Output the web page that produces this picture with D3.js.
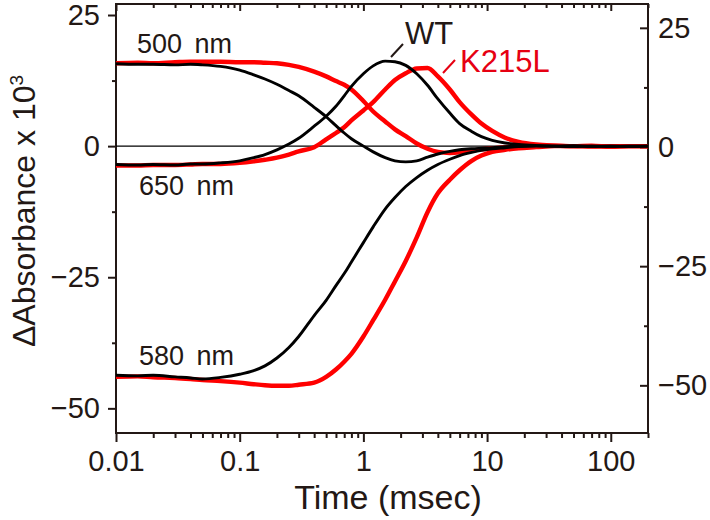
<!DOCTYPE html>
<html>
<head>
<meta charset="utf-8">
<script src="https://cdn.jsdelivr.net/npm/d3@7"></script>
<style>
  body { margin: 0; background: #fff; }
  #chart { width: 710px; height: 520px; }
  text { font-family: "Liberation Sans", Arial, sans-serif; fill: #231815; }
</style>
</head>
<body>
<div id="chart"></div>
<script>

// time points (msec) where the traces were read
const times = [0.01, 0.015, 0.02, 0.03, 0.04, 0.05, 0.07, 0.1, 0.13, 0.16, 0.2, 0.25, 0.3, 0.4, 0.5,
    0.6, 0.7, 0.8, 1.0, 1.2, 1.5, 1.8, 2.2, 2.7, 3.3, 4, 5, 6, 7.5, 9, 11, 14, 18, 25, 35, 50, 70, 100, 140, 200];

// WT traces (black)
const wt500 = [15.7, 15.6, 15.6, 15.5, 15.6, 15.5, 15.2, 14.5, 13.6, 12.8, 11.8, 10.6, 9.6, 7.4, 5.6,
    3.9, 2.5, 1.4, 0.0, -1.1, -2.2, -2.8, -3.0, -2.8, -2.1, -1.5, -1.0, -0.7, -0.5, -0.4, -0.3, -0.1, 0.0, 0.1, 0.0, -0.1, 0.0, -0.1, 0.0, 0.0];
const wt650 = [-3.5, -3.6, -3.5, -3.6, -3.4, -3.4, -3.2, -2.8, -2.2, -1.6, -0.7, 0.4, 1.5, 3.8, 5.7,
    7.6, 9.6, 11.4, 13.8, 15.3, 16.2, 16.1, 15.4, 13.8, 11.6, 9.0, 6.3, 4.3, 2.8, 1.8, 1.1, 0.6, 0.3, 0.1, 0.0, 0.1, 0.0, 0.0, -0.1, 0.0];
const wt580 = [-43.7, -43.8, -43.7, -44.0, -44.2, -44.4, -44.1, -43.5, -42.8, -41.9, -40.4, -38.4, -36.3, -32.3, -29.4,
    -26.6, -24.3, -22.1, -18.4, -15.4, -12.0, -9.8, -7.7, -6.0, -4.6, -3.5, -2.5, -1.8, -1.2, -0.8, -0.5, -0.3, -0.1, 0.0, 0.0, 0.0, -0.1, 0.0, 0.0, 0.0];

// K215L traces (red)
const k500 = [15.8, 15.9, 15.8, 16.0, 16.1, 16.1, 16.1, 16.0, 16.0, 15.9, 15.8, 15.5, 15.1, 14.2, 13.3,
    12.4, 11.7, 10.8, 8.6, 6.6, 4.7, 3.2, 1.9, 0.5, -0.5, -1.1, -1.3, -1.2, -0.9, -0.6, -0.4, -0.2, -0.1, 0.0, 0.1, 0.0, 0.0, -0.1, 0.0, 0.0];
const k650 = [-3.7, -3.7, -3.6, -3.6, -3.5, -3.4, -3.4, -3.2, -2.9, -2.6, -2.2, -1.6, -1.0, -0.2, 1.3,
    2.5, 3.6, 4.9, 6.8, 8.4, 10.8, 12.6, 13.9, 14.8, 14.9, 13.3, 10.8, 8.4, 6.0, 4.3, 2.9, 1.6, 0.8, 0.3, 0.1, 0.0, 0.1, -0.1, 0.0, 0.0];
const k580 = [-44.0, -43.9, -44.1, -44.2, -44.4, -44.6, -44.8, -45.1, -45.4, -45.6, -45.7, -45.7, -45.5, -45.1, -44.0,
    -42.6, -41.1, -39.6, -36.3, -33.2, -29.3, -25.8, -21.9, -17.4, -12.6, -9.0, -6.4, -4.6, -2.8, -1.8, -1.1, -0.7, -0.4, -0.2, 0.0, 0.0, -0.1, 0.0, 0.0, 0.0];

// axis ticks
const xTicks = [0.01, 0.1, 1, 10, 100];
const yTicks = [-50, -25, 0, 25];
const yMinorTicks = [-37.5, -12.5, 12.5];


//1. SVG CANVAS

const width = 710;
const height = 520;

const svg = d3.select("#chart")
    .append("svg")
    .attr("width", width)
    .attr("height", height);

const margin = {
    top: 4,
    left: 116,
    right: 62,
    bottom: 87
};


//2. SCALES

const xScale = d3.scaleLog()
    .domain([0.01, 200])
    .range([margin.left, width - margin.right]);

const yScale = d3.scaleLinear()
    .domain([-54.7, 27.1])
    .range([height - margin.bottom, margin.top]);

const yScaleRight = d3.scaleLinear()
    .domain([-60, 30])
    .range([height - margin.bottom, margin.top]);

// minor ticks 2..9 of every decade
let xMinorTicks = [];
[0.01, 0.1, 1, 10, 100].forEach(function(dec) {
    for (let k = 2; k <= 9; k++) {
        const v = +(dec * k).toPrecision(3);
        if (v <= 200) xMinorTicks.push(v);
    }
});


//3. AXES

function styleAxis(g) {
    g.select(".domain").remove();
    g.selectAll("line").attr("stroke", "#231815").attr("stroke-width", 2);
    g.selectAll("text").style("font-size", "29px").attr("fill", "#231815");
}

const yAxis = svg.append("g")
    .attr("transform", `translate(${margin.left},0)`)
    .call(d3.axisLeft(yScale).tickValues(yTicks).tickSize(8).tickPadding(8))
    .call(styleAxis);

svg.append("g")
    .attr("transform", `translate(${margin.left},0)`)
    .call(d3.axisLeft(yScale).tickValues(yMinorTicks).tickSize(4).tickFormat(""))
    .call(styleAxis);

const yAxisRight = svg.append("g")
    .attr("transform", `translate(${width - margin.right},0)`)
    .call(d3.axisRight(yScaleRight).tickValues(yTicks).tickSize(-8).tickPadding(10))
    .call(styleAxis);

svg.append("g")
    .attr("transform", `translate(${width - margin.right},0)`)
    .call(d3.axisRight(yScaleRight).tickValues(yMinorTicks).tickSize(-4).tickFormat(""))
    .call(styleAxis);

const xAxis = svg.append("g")
    .attr("transform", `translate(0,${height - margin.bottom})`)
    .call(d3.axisBottom(xScale).tickValues(xTicks).tickSize(9).tickPadding(8)
        .tickFormat(function(d) { return String(d); }))
    .call(styleAxis);

svg.append("g")
    .attr("transform", `translate(0,${height - margin.bottom})`)
    .call(d3.axisBottom(xScale).tickValues(xMinorTicks).tickSize(5).tickFormat(""))
    .call(styleAxis);

// mirrored ticks on the top edge, pointing inward
svg.append("g")
    .attr("transform", `translate(0,${margin.top})`)
    .call(d3.axisBottom(xScale).tickValues(xTicks).tickSize(7).tickFormat(""))
    .call(styleAxis);

svg.append("g")
    .attr("transform", `translate(0,${margin.top})`)
    .call(d3.axisBottom(xScale).tickValues(xMinorTicks).tickSize(4).tickFormat(""))
    .call(styleAxis);

// frame
svg.append("rect")
    .attr("x", margin.left)
    .attr("y", margin.top)
    .attr("width", width - margin.left - margin.right)
    .attr("height", height - margin.top - margin.bottom)
    .attr("fill", "none")
    .attr("stroke", "#231815")
    .attr("stroke-width", 2);

// zero line
svg.append("line")
    .attr("x1", margin.left)
    .attr("x2", width - margin.right)
    .attr("y1", yScale(0))
    .attr("y2", yScale(0))
    .attr("stroke", "black")
    .attr("stroke-width", 1.4);


//4. TRACES

const line = d3.line()
    .x(function(d) { return xScale(d[0]); })
    .y(function(d) { return yScale(d[1]); })
    .curve(d3.curveMonotoneX);

const traces = [
    { values: k500, color: "#ff0000", w: 4.4 },
    { values: k650, color: "#ff0000", w: 4.4 },
    { values: k580, color: "#ff0000", w: 4.4 },
    { values: wt500, color: "#000000", w: 2.9 },
    { values: wt650, color: "#000000", w: 2.9 },
    { values: wt580, color: "#000000", w: 2.9 }
];

svg.selectAll("path.trace")
    .data(traces)
    .enter()
    .append("path")
        .attr("class", "trace")
        .attr("d", function(d) { return line(times.map(function(t, i) { return [t, d.values[i]]; })); })
        .attr("fill", "none")
        .attr("stroke", function(d) { return d.color; })
        .attr("stroke-width", function(d) { return d.w; })
        .attr("stroke-linejoin", "round");


//5. LABELS

const wlLabels = [
    { text: "500 nm", x: 137, y: 53 },
    { text: "650 nm", x: 139, y: 195 },
    { text: "580 nm", x: 139, y: 365 }
];

svg.selectAll("text.wl")
    .data(wlLabels)
    .enter()
    .append("text")
        .attr("class", "wl")
        .attr("x", function(d) { return d.x; })
        .attr("y", function(d) { return d.y; })
        .style("font-size", "27px")
        .style("word-spacing", "5px")
        .text(function(d) { return d.text; });

svg.append("line")
    .attr("x1", 391).attr("y1", 57)
    .attr("x2", 403).attr("y2", 44)
    .attr("stroke", "#231815")
    .attr("stroke-width", 2);

svg.append("text")
    .attr("x", 405)
    .attr("y", 44)
    .style("font-size", "31px")
    .text("WT");

svg.append("line")
    .attr("x1", 443).attr("y1", 73)
    .attr("x2", 455).attr("y2", 60)
    .attr("stroke", "#e60012")
    .attr("stroke-width", 2);

svg.append("text")
    .attr("x", 460)
    .attr("y", 72)
    .style("font-size", "31px")
    .style("fill", "#e60012")
    .text("K215L");

const xAxisLabel = svg.append("text")
    .attr("x", 388)
    .attr("y", 509)
    .attr("text-anchor", "middle")
    .style("font-size", "34px")
    .text("Time (msec)");

const yAxisLabel = svg.append("text")
    .attr("transform", "rotate(-90)")
    .attr("x", -211)
    .attr("y", 35)
    .attr("text-anchor", "middle")
    .style("font-size", "32px");

yAxisLabel.append("tspan").text("ΔAbsorbance x 10");
yAxisLabel.append("tspan")
    .attr("dy", -12)
    .style("font-size", "19px")
    .text("3");

</script>
</body>
</html>
